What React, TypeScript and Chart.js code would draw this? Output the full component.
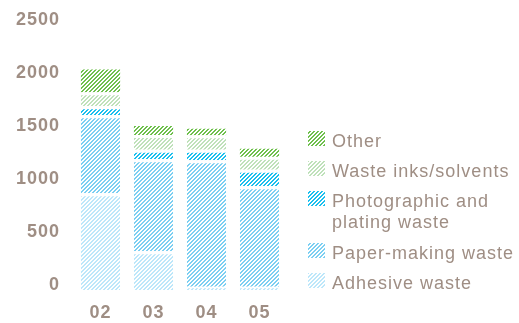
import React, { useEffect, useRef } from 'react';
import { Chart, registerables } from 'chart.js';

Chart.register(...registerables);

const categories = ['02', '03', '04', '05'];
const adhesiveWaste = [911, 365, 31, 31];
const paperMakingWaste = [737, 868, 1193, 946];
const photographicWaste = [84, 90, 99, 156];
const wasteInks = [131, 138, 135, 124];
const otherWaste = [216, 84, 62, 75];
const yTickValues = [0, 500, 1000, 1500, 2000, 2500];

const seriesNames = [
  'Adhesive waste',
  'Paper-making waste',
  'Photographic and plating waste',
  'Waste inks/solvents',
  'Other',
];
const seriesColors = ['#bde7fa', '#7ccff2', '#1cbfee', '#bfe1ba', '#6fc04d'];

const TEXT_COLOR = '#9f8e84';
const FONT_FAMILY = '"Liberation Sans", Arial, Helvetica, sans-serif';

function wrapText(ctx: CanvasRenderingContext2D, text: string, maxWidth: number): string[] {
  const words = text.split(' ');
  const lines: string[] = [];
  let cur = '';
  for (const w of words) {
    const test = cur ? cur + ' ' + w : w;
    if (cur && ctx.measureText(test).width > maxWidth) {
      lines.push(cur);
      cur = w;
    } else {
      cur = test;
    }
  }
  if (cur) lines.push(cur);
  return lines;
}

const sideLegend = {
  id: 'sideLegend',
  beforeDraw(chart: any) {
    (chart.ctx as any).letterSpacing = '1px';
  },
  afterDraw(chart: any) {
    const ctx = chart.ctx as CanvasRenderingContext2D;
    ctx.save();
    (ctx as any).letterSpacing = '1px';
    ctx.font = '18px ' + FONT_FAMILY;
    ctx.textAlign = 'left';
    ctx.textBaseline = 'alphabetic';
    const datasets = chart.data.datasets.slice().reverse();
    let y = 131;
    for (const ds of datasets) {
      ctx.fillStyle = ds.backgroundColor;
      ctx.fillRect(308, y, 17, 15);
      ctx.fillStyle = TEXT_COLOR;
      const lines = wrapText(ctx, ds.label, 190);
      lines.forEach((ln, i) => ctx.fillText(ln, 332, y + 16 + i * 21));
      y += 30 + (lines.length - 1) * 22;
    }
    ctx.restore();
  },
};

function makePattern(ctx: CanvasRenderingContext2D, color: string): CanvasPattern | string {
  const tile = document.createElement('canvas');
  tile.width = 4;
  tile.height = 4;
  const g = tile.getContext('2d');
  if (!g) return color;
  g.fillStyle = color;
  for (let x = 0; x < 4; x++) {
    for (let y = 0; y < 4; y++) {
      if ((x + y) % 4 < 2) g.fillRect(x, y, 1, 1);
    }
  }
  return ctx.createPattern(tile, 'repeat') || color;
}

export default function App() {
  const canvasRef = useRef<HTMLCanvasElement | null>(null);

  useEffect(() => {
    const canvas = canvasRef.current;
    if (!canvas) return;
    const ctx = canvas.getContext('2d');
    if (!ctx) return;
    const seriesValues = [adhesiveWaste, paperMakingWaste, photographicWaste, wasteInks, otherWaste];
    const datasets = seriesValues.map((vals, i) => {
      const pat = makePattern(ctx, seriesColors[i]);
      const isTop = i === seriesValues.length - 1;
      return {
        label: seriesNames[i],
        data: vals,
        backgroundColor: pat,
        borderColor: '#ffffff',
        borderWidth: isTop ? 0 : { top: 3, left: 0, right: 0, bottom: 0 },
        borderSkipped: 'start',
        barPercentage: 0.74,
        categoryPercentage: 1,
      };
    });

    const chart = new Chart(ctx, {
      type: 'bar',
      data: { labels: categories, datasets: datasets as any },
      options: {
        animation: false,
        responsive: false,
        events: [],
        layout: { padding: { top: 23, right: 233, left: 0, bottom: 0 } },
        plugins: {
          legend: { display: false },
          tooltip: { enabled: false },
        },
        scales: {
          x: {
            stacked: true,
            grid: { display: false, drawTicks: false },
            border: { display: false },
            ticks: {
              color: TEXT_COLOR,
              padding: 12,
              font: { family: FONT_FAMILY, size: 18, weight: 'bold' },
            },
            afterFit: (scale: any) => {
              scale.height = 33;
            },
          },
          y: {
            stacked: true,
            min: 0,
            max: 2500,
            grid: { display: false, drawTicks: false },
            border: { display: false },
            afterBuildTicks: (scale: any) => {
              scale.ticks = yTickValues.map((v) => ({ value: v }));
            },
            ticks: {
              color: TEXT_COLOR,
              padding: 14,
              labelOffset: -5,
              callback: (v: any) => String(v),
              font: { family: FONT_FAMILY, size: 18, weight: 'bold' },
            },
            afterFit: (scale: any) => {
              scale.width = 74;
            },
          },
        },
      } as any,
      plugins: [sideLegend],
    });
    return () => chart.destroy();
  }, []);

  return (
    <div style={{ position: 'fixed', left: 0, top: 0, width: 519, height: 323, background: '#fff' }}>
      <canvas ref={canvasRef} width={519} height={323} style={{ display: 'block' }} />
    </div>
  );
}
